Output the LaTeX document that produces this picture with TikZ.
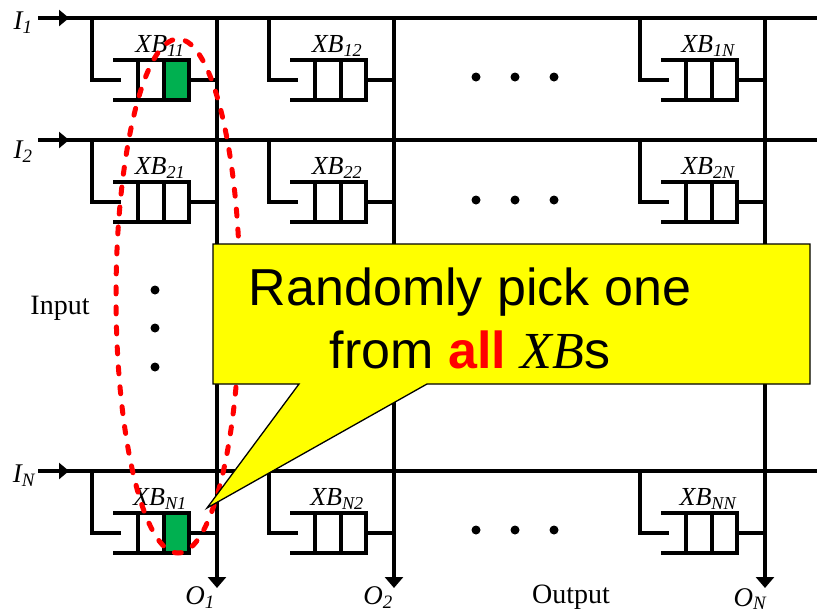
\documentclass[tikz,border=0pt]{standalone}
\usepackage{fontspec}
\setmainfont{Liberation Serif}
\newfontfamily\arialfont{Liberation Sans}
\usepackage{tikz}
\usetikzlibrary{arrows.meta, positioning}

\definecolor{xbgreen}{HTML}{00B050}
\definecolor{callyellow}{HTML}{FFFF00}

\begin{document}
\begin{tikzpicture}[x=1pt, y=-1pt,
    wire/.style={line width=3.2pt},
    inarrow/.style={line width=3.2pt, -{Triangle[length=10pt, width=16pt]}},
    outarrow/.style={line width=3.2pt, -{Triangle[length=11pt, width=18pt]}},
    xblabel/.style={font=\fontsize{26}{30}\selectfont\itshape, inner sep=0pt},
    portlabel/.style={font=\fontsize{27}{30}\selectfont\itshape, inner sep=0pt},
    sidelabel/.style={font=\fontsize{28}{32}\selectfont, inner sep=0pt},
    dot/.style={circle, fill=black, inner sep=0pt, minimum size=9pt},
    callout/.style={fill=callyellow, draw=black, line width=1.3pt, line join=miter},
    calltext/.style={font=\arialfont\fontsize{52}{63}\selectfont, inner sep=0pt, anchor=base},
  ]
  \useasboundingbox (0,0) rectangle (817,614);

  % input rows
  \coordinate (I1) at (38,18);   \coordinate (I1tip) at (69,18);   \coordinate (I1end) at (817,18);
  \coordinate (I2) at (38,140);  \coordinate (I2tip) at (69,140);  \coordinate (I2end) at (817,140);
  \coordinate (IN) at (38,471);  \coordinate (INtip) at (69,471);  \coordinate (INend) at (817,471);
  \foreach \r in {I1, I2, IN} {
    \draw[wire] (\r) -- (\r end);
    \draw[inarrow] (\r) -- (\r tip);
  }

  % output columns
  \coordinate (O1top) at (217,18); \coordinate (O1) at (217,588);
  \coordinate (O2top) at (394,18); \coordinate (O2) at (394,588);
  \coordinate (ONtop) at (765,18); \coordinate (ON) at (765,588);
  \foreach \c in {O1, O2, ON} {
    \draw[outarrow] (\c top) -- (\c);
  }

  % chosen buffers
  \fill[xbgreen] (164,60) rectangle (189,100);
  \fill[xbgreen] (164,513) rectangle (189,553);

  % crosspoint buffers
  \foreach \xo/\yi/\sub in {217/18/11, 394/18/12, 765/18/1N,
                            217/140/21, 394/140/22, 765/140/2N,
                            217/471/N1, 394/471/N2, 765/471/NN} {
    \draw[wire] (\xo-125,\yi) -- (\xo-125,\yi+62) -- (\xo-96,\yi+62);
    \draw[wire] (\xo-104,\yi+42) -- (\xo-28,\yi+42) -- (\xo-28,\yi+82) -- (\xo-104,\yi+82);
    \draw[wire] (\xo-79,\yi+42) -- (\xo-79,\yi+82);
    \draw[wire] (\xo-53,\yi+42) -- (\xo-53,\yi+82);
    \draw[wire] (\xo-28,\yi+62) -- (\xo,\yi+62);
    \node[xblabel] (xb\sub) at (\xo-57,\yi+28) {XB\textsubscript{\sub}};
  }

  % dots
  \foreach \y [count=\k] in {77, 200, 530} {
    \node[dot] (hdot\k a) at (476,\y) {};
    \node[dot] (hdot\k b) at (515,\y) {};
    \node[dot] (hdot\k c) at (554,\y) {};
  }
  \node[dot] (vdota) at (155,290) {};
  \node[dot] (vdotb) at (155,328) {};
  \node[dot] (vdotc) at (155,367) {};

  % labels
  \node[portlabel] (lI1) at (23,23) {I\textsubscript{1}};
  \node[portlabel] (lI2) at (23,152) {I\textsubscript{2}};
  \node[portlabel] (lIN) at (24,476) {I\textsubscript{N}};
  \node[portlabel] (lO1) at (200,598) {O\textsubscript{1}};
  \node[portlabel] (lO2) at (378,598) {O\textsubscript{2}};
  \node[portlabel] (lON) at (750,599) {O\textsubscript{N}};
  \node[sidelabel] (input) at (60,308) {Input};
  \node[sidelabel] (output) at (571,597) {Output};

  % selection
  \draw[red, line width=5pt, dash pattern=on 7pt off 13pt, line cap=round]
    (178,296) ellipse [x radius=62pt, y radius=257pt];

  \draw[callout] (213,244) -- (810,244) -- (810,384) -- (427,384) -- (207,508)
    -- (299,384) -- (213,384) -- cycle;
  \node[calltext] (pick1) at (470,305) {Randomly pick one};
  \node[calltext] (pick2) at (470,368) {from \textcolor{red}{\textbf{all}} {\rmfamily\itshape XB}s};
\end{tikzpicture}
\end{document}
